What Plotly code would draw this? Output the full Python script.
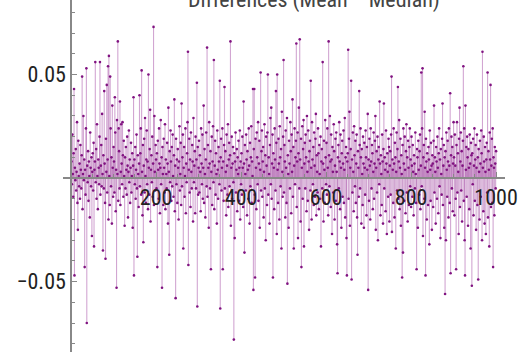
import plotly.graph_objects as go

# Differences (Mean - Median), values in units of 1e-3, index 1..1000
diff_milli = [
    8, -3, 21, 2, -9, 12, 43, -47, 5, -1, 14, -6, 3, 27, -12, -25, 18, 1, -4, 7,
    -10, 16, 4, -5, 11, 49, -15, 2, 30, -1, 9, -43, 4, -8, 24, 53, -70, 6, -2, 13,
    -11, 8, 1, -19, 22, 5, -4, 10, -28, 3,
    12, -6, 17, -33, 4, 8, 56, -2, 14, -10, 26, 1, -15, 9, 5, -3, 20, 56, -8, 6,
    16, -4, 31, 2, -35, 11, -5, 42, 7, -12, -39, 19, 3, 45, -7, 9, 54, -20, 59, 1,
    -13, 49, 24, -4, 10, -22, 35, 5, -9, 15,
    8, -7, 39, 22, -16, 4, -53, 28, 2, 66, -11, 24, 13, -5, 37, -13, 3, 26, 7, -3,
    27, 11, -9, 18, 1, -23, 10, -5, 15, 4, -8, 20, 6, -19, 3, 23, -2, 9, -12, 5,
    17, -7, 1, 12, -24, 6, 39, -47, 9, -3,
    15, -10, 4, 21, -5, -38, 11, 2, -14, 7, 40, -4, 12, 24, -8, 52, 3, -18, 16, -31,
    6, 19, -7, 29, 1, -12, 9, 23, -3, 8, -15, 50, 5, -8, 14, 33, -21, 4, 11, -2,
    20, -9, 7, 73, -13, 30, 3, -6, 16, 9,
    -5, 12, -43, 18, 4, -10, 24, 7, -17, 5, 28, -3, 10, -53, 15, 2, -13, 19, 5, -7,
    26, -15, 9, 2, -5, 17, 7, -22, 34, 3, -37, 13, -2, 23, 8, -11, 15, -4, 21, 1,
    -9, 11, 38, -16, 6, -58, 19, -3, 9, -12,
    14, 5, -20, 8, 25, -6, 2, 17, -13, 36, -4, 10, 21, -34, 5, 15, -9, 1, 24, -17,
    7, -2, 12, 27, 61, -42, 4, 19, -7, 9, -14, 22, 3, -5, 16, 8, -21, 29, -2, 6,
    13, -17, 20, -5, 9, 46, -62, 15, -8, 5,
    18, -7, 11, 3, -16, 24, 7, -3, 21, -10, 5, 35, -12, 14, 2, -19, 9, 22, -4, 63,
    -9, 16, 5, -24, 27, 7, -5, 13, -44, 3, 20, -13, 8, 25, -2, 57, -15, 6, 18, -8,
    12, 2, -22, 23, 4, -10, 15, 8, -3, 47,
    -63, 10, 19, -6, 5, 24, -44, 8, -11, 16, 44, -5, 13, 3, -18, 21, 6, -8, 26, -14,
    9, 17, -4, 11, 66, -23, 5, 20, -10, 7, 15, -2, -78, 12, -29, 8, 22, -7, 4, 14,
    -16, 10, 2, 18, -11, 5, 23, -20, 8, -3,
    12, -8, 20, 5, -14, 37, 7, -36, 16, 2, -6, 21, 9, -18, 13, 4, -10, 24, 6, -22,
    17, -4, 10, 25, -12, 8, 1, 43, -54, 14, 43, -8, -48, 19, 5, -15, 22, 10, -3, 27,
    -11, 7, 18, -24, 4, 51, -6, 13, 23, -9,
    8, 15, -19, 3, 26, -5, 11, -30, 20, 6, -13, 22, 50, -8, 10, 2, -22, 16, 29, -3,
    34, -10, 7, 21, -48, 12, 5, -15, 24, 9, -6, 42, 17, -27, 50, 4, -12, 19, 7, -20,
    25, 10, -4, 14, -34, 32, 3, -9, 20, 57,
    -7, 16, 8, -19, 23, 5, -12, 29, -51, 11, 2, -24, 18, 7, -5, 27, 13, -17, 21, 3,
    38, -9, 15, -34, 6, 24, -3, 10, 18, 65, -14, 8, 22, -29, 12, 34, -5, 67, 9, -21,
    19, -43, 5, 25, -10, 14, 28, -33, 7, 17,
    -5, 21, 10, -16, 30, 3, -11, 23, 8, -25, 13, 18, -6, 47, 5, -20, 27, 9, -3, 15,
    -13, 22, 6, -9, 19, 31, -18, 11, 3, -7, 24, 12, -15, 16, 2, -10, 20, -33, 8, 14,
    -5, 56, 7, -21, 18, 4, -12, 28, 10, -3,
    17, -8, 24, 5, -18, 66, 11, -4, 30, 8, -14, 21, 9, -27, 15, 3, -7, 26, 13, -20,
    6, 19, -11, 22, 3, -32, -46, 10, 16, -5, 27, 8, -15, 21, 5, -24, 12, 18, -9, 7,
    23, -12, 4, 29, -19, 10, 15, -29, -47, 8,
    12, 62, -10, 19, 32, -23, 5, 14, 47, -49, 9, -7, 22, 3, -16, 25, 11, -4, 18, -12,
    7, 21, -19, -37, 13, 5, -9, 42, 16, -5, 24, 10, -22, 14, 2, -13, 20, 7, -24, 17,
    5, -8, 23, 10, -18, 15, 4, 31, -54, 9,
    -11, 19, 6, -20, 24, 8, -5, 16, 12, -15, 3, 22, -10, 7, 18, 30, -25, 5, 13, -7,
    20, -30, 9, 15, -3, 37, 7, -18, 11, 2, -13, 21, 8, -22, 14, 36, -5, 10, 4, -16,
    23, 7, -27, 12, 3, -9, 19, 15, -21, 6,
    13, -8, 21, 49, -26, 9, 4, -12, 24, 7, -19, 17, 10, -34, 3, 22, -6, 14, 44, -10,
    8, 28, -15, 5, 19, -23, 11, 2, -48, 16, -36, 24, 7, -11, 20, 4, -17, 13, 26, -7,
    10, -21, 18, 5, -13, 15, 24, -4, 9, -14,
    20, 6, -9, 16, 3, -18, 11, 7, -5, 22, 2, -12, -44, 14, 10, -24, 18, 4, -8, 13,
    21, -15, 6, 51, -4, 24, 53, -28, 10, 16, -10, 32, 5, -47, 19, 8, -20, 12, 3, -13,
    15, 9, -32, 23, 4, -11, 17, 6, -25, 11,
    7, -14, 18, 35, -7, 10, 3, -22, 15, 8, -10, 20, 5, -17, 12, 24, -4, 9, -29, 14,
    2, -8, 19, 36, -13, 6, 16, -24, 10, -56, 13, -30, 22, 4, -9, 18, 8, -19, 24, 6,
    -12, 41, -46, 11, 20, -5, 15, -16, 7, 27,
    10, -18, 21, 6, -10, -44, 16, 27, -7, 12, 3, -27, 19, 34, -14, 8, 22, -6, 13, -21,
    6, 18, 54, -11, 24, -30, -47, 35, 4, 15, -9, 20, 10, -23, 14, 5, -15, 21, 7, -34,
    17, 11, -52, 12, -3, 19, -18, 6, 24, -11,
    9, 16, -25, 5, 21, -13, 10, -49, 14, 3, -20, 18, 7, -9, 23, 12, -30, 61, 5, -16,
    20, 8, -22, 15, 3, -27, 9, 17, -7, 51, -19, 13, 4, -33, 22, 9, 45, -14, 6, 19,
    -12, 24, -43, 10, 5, -18, 15, 7, -5, 13,
]

title_text = "Differences (Mean \u2212 Median)"
x_major_ticks = [200, 400, 600, 800, 1000]
y_major_ticks = [-0.05, 0.05]
y_major_labels = ["\u22120.05", "0.05"]

values = [v / 1000 for v in diff_milli]
index = list(range(1, len(values) + 1))

# stems from axis to each point
stem_x, stem_y = [], []
for xi, yi in zip(index, values):
    stem_x += [xi, xi, None]
    stem_y += [0, yi, None]

W, H = 521, 352
x_range = [-19, 1021]
y_range = [-0.084, 0.086]

fig = go.Figure()
fig.add_trace(go.Scatter(
    x=stem_x, y=stem_y, mode="lines",
    line=dict(color="rgba(160,70,160,0.48)", width=1.1),
    hoverinfo="skip", showlegend=False,
))
fig.add_trace(go.Scatter(
    x=index, y=values, mode="markers",
    marker=dict(color="rgb(128,18,128)", size=2.6, line=dict(width=0)),
    showlegend=False,
))

font_family = "Liberation Sans Narrow, Roboto Condensed, Liberation Sans, Arial"
tick_font = dict(family=font_family, size=22, color="#222")

x0_pos = (0 - x_range[0]) / (x_range[1] - x_range[0])
y0_pos = (0 - y_range[0]) / (y_range[1] - y_range[0])

fig.update_layout(
    width=W, height=H,
    margin=dict(l=63, r=16, t=0, b=0, autoexpand=False),
    paper_bgcolor="white", plot_bgcolor="white",
    xaxis=dict(
        range=x_range, showgrid=False, zeroline=False, automargin=False,
        showline=True, linecolor="#888", linewidth=1.6,
        anchor="free", position=y0_pos,
        tickmode="array", tickvals=x_major_ticks,
        ticks="inside", ticklen=5, tickcolor="#888", tickwidth=1,
        tickfont=tick_font,
        minor=dict(dtick=50, tick0=0, ticks="inside", ticklen=3, tickcolor="#888", tickwidth=1),
    ),
    yaxis=dict(
        range=y_range, showgrid=False, zeroline=False, automargin=False,
        showline=True, linecolor="#888", linewidth=1.6,
        anchor="free", position=x0_pos,
        tickmode="array", tickvals=y_major_ticks, ticktext=y_major_labels,
        ticks="inside", ticklen=5, tickcolor="#888", tickwidth=1,
        tickfont=tick_font,
        minor=dict(dtick=0.01, tick0=0, ticks="inside", ticklen=3, tickcolor="#888", tickwidth=1),
    ),
    annotations=[dict(
        text=title_text, xref="paper", yref="paper",
        x=0.568, y=1.0, xanchor="center", yanchor="middle",
        showarrow=False,
        font=dict(family=font_family, size=22, color="#444"),
    )],
)

fig.write_html(
    "out.html",
    config={"displayModeBar": False},
    post_script="document.body.style.margin='0';document.documentElement.style.overflow='hidden';",
)
